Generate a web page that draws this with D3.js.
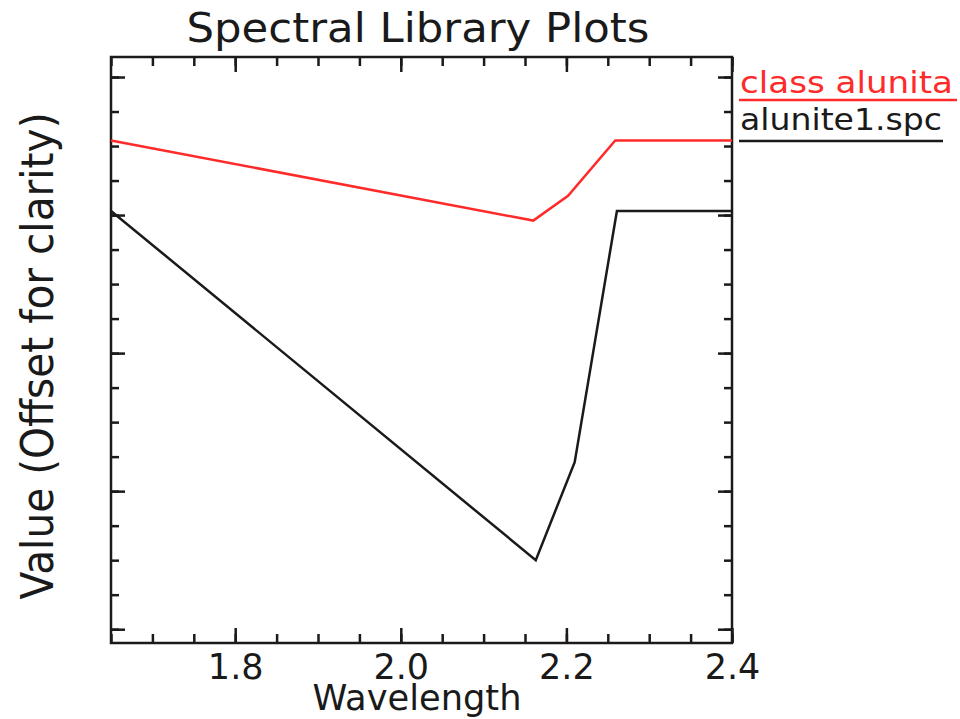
<!DOCTYPE html>
<html>
<head>
<meta charset="utf-8">
<script src="https://cdn.jsdelivr.net/npm/d3@7"></script>
<style>
  body { margin: 0; background: #fff; }
  text { font-family: "DejaVu Sans", sans-serif; fill: #1a1a1a; }
</style>
</head>
<body>
<svg id="chart" width="960" height="719"></svg>
<script>
// spectral values
const wavelengthSpc = [1.65, 2.163, 2.210, 2.261, 2.40];
const valueSpc = [0.603, 0.350, 0.421, 0.603, 0.603];

const wavelengthClass = [1.65, 2.160, 2.202, 2.259, 2.40];
const valueClass = [0.654, 0.596, 0.614, 0.654, 0.654];

const xMajorTicks = [1.8, 2.0, 2.2, 2.4];
const yMajorTicks = [0.3, 0.4, 0.5, 0.6, 0.7];

const legendNames = ["class alunita", "alunite1.spc"];
const legendColors = ["#ff2a2a", "#1a1a1a"];

const box = { left: 111, right: 732, top: 57, bottom: 643 };

const svg = d3.select("#chart");

const x = d3.scaleLinear().domain([1.65, 2.4]).range([box.left, box.right]);
const y = d3.scaleLinear().domain([0.29, 0.7145]).range([box.bottom, box.top]);

const xMinorTicks = x.ticks(15);
const yMinorTicks = d3.range(0.3, 0.7001, 0.025);

// axes: ticks point into the plot on all four sides
const axisColor = "#1a1a1a";
function styleAxis(g) {
  g.select(".domain").remove();
  g.selectAll(".tick line").attr("stroke", axisColor).attr("stroke-width", 2.5);
}

svg.append("g").attr("transform", `translate(0,${box.bottom})`)
  .call(d3.axisBottom(x).tickValues(xMinorTicks).tickSize(-9).tickFormat(""))
  .call(styleAxis);
svg.append("g").attr("transform", `translate(0,${box.bottom})`)
  .call(d3.axisBottom(x).tickValues(xMajorTicks).tickSize(-15).tickPadding(11).tickFormat(d3.format(".1f")))
  .call(styleAxis)
  .call(g => g.selectAll(".tick text")
    .attr("font-size", 35).attr("font-family", "DejaVu Sans").attr("fill", "#1a1a1a"));

svg.append("g").attr("transform", `translate(0,${box.top})`)
  .call(d3.axisTop(x).tickValues(xMinorTicks).tickSize(-9).tickFormat(""))
  .call(styleAxis);
svg.append("g").attr("transform", `translate(0,${box.top})`)
  .call(d3.axisTop(x).tickValues(xMajorTicks).tickSize(-15).tickFormat(""))
  .call(styleAxis);

svg.append("g").attr("transform", `translate(${box.left},0)`)
  .call(d3.axisLeft(y).tickValues(yMinorTicks).tickSize(-8).tickFormat(""))
  .call(styleAxis);
svg.append("g").attr("transform", `translate(${box.left},0)`)
  .call(d3.axisLeft(y).tickValues(yMajorTicks).tickSize(-14).tickFormat(""))
  .call(styleAxis);
svg.append("g").attr("transform", `translate(${box.right},0)`)
  .call(d3.axisRight(y).tickValues(yMinorTicks).tickSize(-8).tickFormat(""))
  .call(styleAxis);
svg.append("g").attr("transform", `translate(${box.right},0)`)
  .call(d3.axisRight(y).tickValues(yMajorTicks).tickSize(-14).tickFormat(""))
  .call(styleAxis);

// frame
svg.append("rect")
  .attr("x", box.left).attr("y", box.top)
  .attr("width", box.right - box.left).attr("height", box.bottom - box.top)
  .attr("fill", "none").attr("stroke", axisColor).attr("stroke-width", 2.5);

// lines
const line = d3.line().x(d => x(d[0])).y(d => y(d[1]));

svg.append("path")
  .datum(d3.zip(wavelengthSpc, valueSpc))
  .attr("fill", "none").attr("stroke", legendColors[1]).attr("stroke-width", 2.5)
  .attr("d", line);

svg.append("path")
  .datum(d3.zip(wavelengthClass, valueClass))
  .attr("fill", "none").attr("stroke", legendColors[0]).attr("stroke-width", 2.5)
  .attr("d", line);

// titles
svg.append("text")
  .attr("x", 418).attr("y", 42).attr("text-anchor", "middle")
  .attr("font-size", 40).attr("textLength", 463).attr("lengthAdjust", "spacingAndGlyphs")
  .text("Spectral Library Plots");

svg.append("text")
  .attr("x", 417).attr("y", 710).attr("text-anchor", "middle")
  .attr("font-size", 36).attr("textLength", 209).attr("lengthAdjust", "spacingAndGlyphs")
  .text("Wavelength");

svg.append("text")
  .attr("transform", "translate(53,356) rotate(-90)")
  .attr("text-anchor", "middle")
  .attr("font-size", 44).attr("textLength", 487).attr("lengthAdjust", "spacingAndGlyphs")
  .text("Value (Offset for clarity)");

// legend with underlines
const legendRows = [
  { name: legendNames[0], color: legendColors[0], base: 93, under: 100, width: 213, lineEnd: 957 },
  { name: legendNames[1], color: legendColors[1], base: 130, under: 141, width: 202, lineEnd: 943 }
];
legendRows.forEach(r => {
  svg.append("text")
    .attr("x", 740).attr("y", r.base)
    .attr("font-size", 30).attr("textLength", r.width).attr("lengthAdjust", "spacingAndGlyphs")
    .style("fill", r.color)
    .text(r.name);
  svg.append("line")
    .attr("x1", 739).attr("x2", r.lineEnd)
    .attr("y1", r.under).attr("y2", r.under)
    .attr("stroke", r.color).attr("stroke-width", 2.5);
});
</script>
</body>
</html>
